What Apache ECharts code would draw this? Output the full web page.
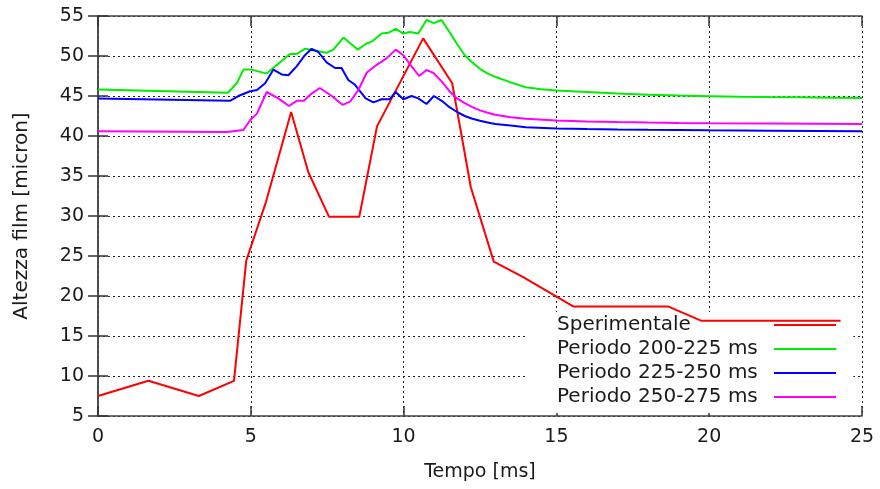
<!DOCTYPE html>
<html>
<head>
<meta charset="utf-8">
<script src="https://cdn.jsdelivr.net/npm/echarts@6/dist/echarts.min.js"></script>
<style>
html,body{margin:0;padding:0;background:#fff;}
#c{width:880px;height:489px;}
</style>
</head>
<body>
<div id="c"></div>
<script>
// ---- Data ----
const seriesNames = ['Sperimentale', 'Periodo 200-225 ms', 'Periodo 225-250 ms', 'Periodo 250-275 ms'];
const xTicks = [0, 5, 10, 15, 20, 25];
const yTicks = [5, 10, 15, 20, 25, 30, 35, 40, 45, 50, 55];

const expT = [0, 1.65, 3.3, 4.45, 4.85, 5.5, 6.32, 6.88, 7.56, 8.55, 9.13, 10.64, 11.59, 12.2, 12.95, 13.9, 15.55, 18.65, 19.75, 24.3];
const expV = [7.5, 9.4, 7.5, 9.4, 24.4, 31.8, 43.0, 35.5, 29.9, 29.9, 41.2, 52.2, 46.6, 33.6, 24.3, 22.4, 18.7, 18.7, 16.9, 16.9];

const gT = [0, 4.25, 4.54, 4.76, 5.03, 5.52, 5.79, 6.28, 6.5, 6.77, 6.99, 7.48, 7.7, 8.03, 8.5, 8.76, 9.0, 9.28, 9.5, 9.74, 9.99, 10.2, 10.48, 10.75, 10.99, 11.24, 11.5, 11.75, 12.0, 12.25, 12.5, 12.75, 13.0, 13.5, 14.0, 14.5, 15, 16, 17, 18, 19, 20, 21, 22, 23, 24, 25];
const gV = [45.8, 45.4, 46.6, 48.3, 48.3, 47.8, 48.7, 50.25, 50.25, 50.9, 50.75, 50.4, 50.8, 52.3, 50.8, 51.5, 51.9, 52.8, 52.9, 53.4, 52.8, 53.0, 52.8, 54.5, 54.1, 54.5, 53.0, 51.5, 50.1, 49.2, 48.4, 47.8, 47.4, 46.7, 46.1, 45.85, 45.7, 45.5, 45.3, 45.15, 45.05, 44.98, 44.92, 44.87, 44.83, 44.79, 44.75];

const bT = [0, 4.32, 4.65, 4.98, 5.2, 5.47, 5.74, 6.01, 6.23, 6.5, 6.77, 6.99, 7.21, 7.48, 7.76, 7.97, 8.19, 8.41, 8.76, 9.01, 9.28, 9.55, 9.74, 9.99, 10.26, 10.48, 10.75, 10.99, 11.25, 11.5, 11.75, 12.0, 12.25, 12.5, 12.75, 13.0, 13.5, 14.0, 15, 16, 17, 18, 19, 20, 22, 25];
const bV = [44.7, 44.4, 45.1, 45.6, 45.75, 46.6, 48.3, 47.7, 47.6, 48.7, 50.1, 50.9, 50.5, 49.2, 48.5, 48.5, 47.0, 46.4, 44.7, 44.2, 44.6, 44.6, 45.5, 44.6, 45.0, 44.7, 44.0, 45.0, 44.4, 43.6, 43.0, 42.5, 42.15, 41.9, 41.7, 41.5, 41.3, 41.1, 40.95, 40.88, 40.82, 40.78, 40.75, 40.72, 40.67, 40.6];

const mT = [0, 4.22, 4.76, 4.98, 5.2, 5.52, 5.9, 6.25, 6.5, 6.74, 6.99, 7.26, 7.65, 8.0, 8.25, 8.52, 8.79, 9.12, 9.44, 9.74, 9.99, 10.26, 10.51, 10.75, 10.97, 11.25, 11.5, 11.75, 12.0, 12.25, 12.5, 12.75, 13.0, 13.5, 14.0, 15, 16, 17, 18, 19, 20, 22, 25];
const mV = [40.6, 40.5, 40.75, 42.0, 42.8, 45.5, 44.7, 43.75, 44.4, 44.4, 45.3, 46.0, 45.0, 43.9, 44.3, 45.75, 47.9, 48.9, 49.7, 50.8, 50.1, 48.7, 47.5, 48.25, 47.9, 46.8, 45.6, 44.7, 44.1, 43.6, 43.2, 42.9, 42.65, 42.35, 42.15, 41.95, 41.82, 41.74, 41.68, 41.63, 41.6, 41.55, 41.5];

const colors = ['#ff0000', '#00ee00', '#0000ff', '#ff00ff'];

// ---- Build options ----
const zip = (a, b) => a.map((v, i) => [v, b[i]]);
const seriesData = [zip(expT, expV), zip(gT, gV), zip(bT, bV), zip(mT, mV)];

const FONT = 'DejaVu Sans';
const axisLineStyle = { color: '#444', width: 1.5 };
const tickStyle = { show: true, inside: true, length: 10, lineStyle: { color: '#333', width: 1.5 } };
const gridLine = { show: true, lineStyle: { color: '#222', type: [2, 3], width: 1 } };
const legendText = { fontFamily: FONT, fontSize: 20, color: '#1a1a1a', lineHeight: 20 };

const chart = echarts.init(document.getElementById('c'), null, { renderer: 'canvas' });
chart.setOption({
  animation: false,
  backgroundColor: '#fff',
  textStyle: { fontFamily: FONT },
  grid: { left: 98, right: 18, top: 16, bottom: 73, containLabel: false },
  legend: [{
    // line samples (and the opaque key box)
    data: seriesNames,
    orient: 'vertical',
    align: 'left',
    left: 528,
    top: 312,
    z: 1,
    selectedMode: false,
    backgroundColor: '#fff',
    padding: [3, 6, 6, 246],
    itemGap: 4,
    itemWidth: 62,
    itemHeight: 2,
    icon: 'rect',
    formatter: () => ' ',
    textStyle: legendText
  }, {
    // key labels
    data: seriesNames,
    orient: 'vertical',
    align: 'left',
    left: 551,
    top: 315,
    z: 2,
    selectedMode: false,
    padding: 0,
    itemGap: 4,
    itemWidth: 1,
    itemHeight: 1,
    icon: 'rect',
    itemStyle: { opacity: 0 },
    textStyle: legendText
  }],
  xAxis: [{
    type: 'value', min: xTicks[0], max: xTicks[xTicks.length - 1], interval: 5,
    name: 'Tempo [ms]', nameLocation: 'middle', nameGap: 47,
    nameTextStyle: { fontFamily: FONT, fontSize: 19, color: '#1a1a1a' },
    axisLine: { show: true, lineStyle: axisLineStyle },
    axisTick: tickStyle,
    axisLabel: { fontFamily: FONT, fontSize: 19, color: '#1a1a1a', margin: 12 },
    splitLine: gridLine
  }, {
    type: 'value', position: 'top', min: xTicks[0], max: xTicks[xTicks.length - 1], interval: 5,
    axisLine: { show: true, lineStyle: axisLineStyle },
    axisTick: tickStyle,
    axisLabel: { show: false },
    splitLine: { show: false }
  }],
  yAxis: [{
    type: 'value', min: yTicks[0], max: yTicks[yTicks.length - 1], interval: 5,
    name: 'Altezza film [micron]', nameLocation: 'middle', nameGap: 66,
    nameTextStyle: { fontFamily: FONT, fontSize: 20, color: '#1a1a1a' },
    axisLine: { show: true, lineStyle: axisLineStyle },
    axisTick: tickStyle,
    axisLabel: { fontFamily: FONT, fontSize: 19, color: '#1a1a1a', margin: 14 },
    splitLine: gridLine
  }, {
    type: 'value', position: 'right', min: yTicks[0], max: yTicks[yTicks.length - 1], interval: 5,
    axisLine: { show: true, lineStyle: axisLineStyle },
    axisTick: tickStyle,
    axisLabel: { show: false },
    splitLine: { show: false }
  }],
  series: seriesNames.map((name, i) => ({
    name: name,
    type: 'line',
    xAxisIndex: 0,
    yAxisIndex: 0,
    data: seriesData[i],
    symbol: 'none',
    z: 3,
    color: colors[i],
    lineStyle: { color: colors[i], width: 2 },
    itemStyle: { color: colors[i] }
  }))
});
</script>
</body>
</html>
